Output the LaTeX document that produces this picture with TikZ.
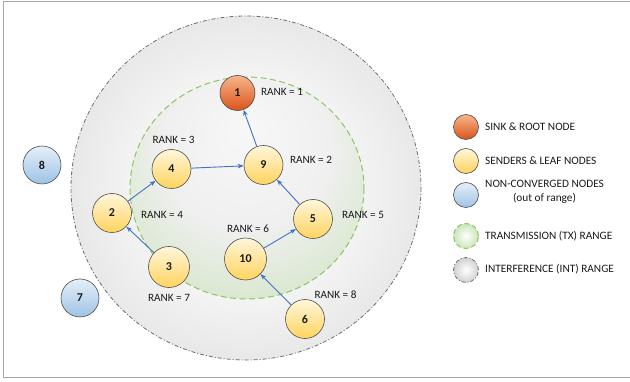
\documentclass[tikz,border=0pt]{standalone}
\usepackage{fontspec}
\setmainfont{Carlito}
\usetikzlibrary{arrows.meta}
\definecolor{yelT}{HTML}{FFF6DB}
\definecolor{yelB}{HTML}{FFD45E}
\definecolor{orT}{HTML}{F8B58B}
\definecolor{orB}{HTML}{D9541A}
\definecolor{blT}{HTML}{E6EFF9}
\definecolor{blB}{HTML}{9DC3E6}
\definecolor{arrowblue}{HTML}{4472C4}
\definecolor{txgreen}{HTML}{8CC564}
\definecolor{intgray}{HTML}{6E6E6E}
\definecolor{outl}{HTML}{4D4D4D}
\definecolor{txt}{HTML}{1A1A1A}
\pgfdeclareradialshading{grayglow}{\pgfpoint{0bp}{0bp}}{color(0bp)=(white); color(15bp)=(white!96!black); color(50bp)=(white!79!black)}
\pgfdeclareradialshading{greenglow}{\pgfpoint{0bp}{14bp}}{color(0bp)=(white!97!black); color(18bp)=(white!94!black); color(50bp)=(txgreen!62!white)}
\tikzset{
  sensor/.style={circle, draw=outl, line width=0.6pt, top color=yelT, bottom color=yelB, minimum size=39pt, inner sep=0pt, font=\bfseries\fontsize{12}{14}\selectfont, text=txt},
  sink/.style={sensor, top color=orT, bottom color=orB, minimum size=35pt},
  lost/.style={sensor, top color=blT, bottom color=blB, minimum size=38pt},
  ranklbl/.style={font=\fontsize{11.2}{13}\selectfont, text=txt, inner sep=1pt},
  legtxt/.style={font=\fontsize{11.3}{14}\selectfont, text=txt, anchor=west, align=center, inner sep=0pt},
  link/.style={draw=arrowblue, line width=0.9pt, -{Stealth[length=6pt,width=4.5pt]}},
  legsym/.style={circle, minimum size=25pt, inner sep=0pt}
}
\begin{document}
\begin{tikzpicture}[x=1pt,y=-1pt]
\useasboundingbox (0,0) rectangle (630,382);
\fill[white] (0,0) rectangle (630,382);
% frame
\draw[gray!70, line width=1pt] (630,1.5) -- (3,1.5) -- (3,377.5) -- (630,377.5);
% interference range
\shade[shading=grayglow] (246,188) ellipse [x radius=175, y radius=172];
\draw[intgray, line width=0.8pt, dash pattern=on 4pt off 2pt on 1pt off 2pt] (246,188) ellipse [x radius=175, y radius=172];
% transmission range
\shade[shading=greenglow] (247,188) ellipse [x radius=117, y radius=111];
\draw[txgreen, line width=1pt, dash pattern=on 6pt off 3.5pt] (247,188) ellipse [x radius=117, y radius=111];
% nodes
\node[sink] (n1) at (237.5,93) {1};
\node[sensor] (n4) at (171.5,169) {4};
\node[sensor] (n9) at (263.5,165) {9};
\node[sensor] (n2) at (112,213) {2};
\node[sensor] (n5) at (313,219) {5};
\node[sensor, minimum size=42pt] (n10) at (245.5,259) {10};
\node[sensor, minimum size=41pt] (n3) at (169,267) {3};
\node[sensor] (n6) at (305,319) {6};
\node[lost] (n8) at (42,165) {8};
\node[lost] (n7) at (80,298) {7};
% links
\draw[link] (n9) -- (n1);
\draw[link] (n4) -- (n9);
\draw[link] (n2) -- (n4);
\draw[link] (n3) -- (n2);
\draw[link] (n5) -- (n9);
\draw[link] (n10) -- (n5);
\draw[link] (n6) -- (n10);
% rank labels
\node[ranklbl] (r1) at (282,92) {RANK = 1};
\node[ranklbl] (r2) at (311,160) {RANK = 2};
\node[ranklbl] (r3) at (173.5,140) {RANK = 3};
\node[ranklbl] (r4) at (162,215) {RANK = 4};
\node[ranklbl] (r5) at (363,215) {RANK = 5};
\node[ranklbl] (r6) at (248,228.5) {RANK = 6};
\node[ranklbl] (r7) at (169,297.5) {RANK = 7};
\node[ranklbl] (r8) at (335.5,294.5) {RANK = 8};
% legend
\node[legsym, draw=outl, line width=0.6pt, top color=orT, bottom color=orB] (l1) at (466,127) {};
\node[legsym, draw=outl, line width=0.6pt, top color=yelT, bottom color=yelB] (l2) at (466,161) {};
\node[legsym, draw=outl, line width=0.6pt, top color=blT, bottom color=blB] (l3) at (466,195) {};
\node[legsym, draw=txgreen, line width=1pt, dash pattern=on 5pt off 3pt, inner color=white, outer color=txgreen!45!white] (l4) at (466,236) {};
\node[legsym, draw=intgray, line width=0.8pt, dash pattern=on 4pt off 2pt on 1pt off 2pt, inner color=white, outer color=white!82!black] (l5) at (466,270) {};
\node[legtxt] (t1) at (485,127) {SINK \& ROOT NODE};
\node[legtxt] (t2) at (485,161) {SENDERS \& LEAF NODES};
\node[legtxt] (t3) at (485,192) {NON-CONVERGED NODES\\(out of range)};
\node[legtxt] (t4) at (485,236.5) {TRANSMISSION (TX) RANGE};
\node[legtxt] (t5) at (485,269.5) {INTERFERENCE (INT) RANGE};
\end{tikzpicture}
\end{document}
